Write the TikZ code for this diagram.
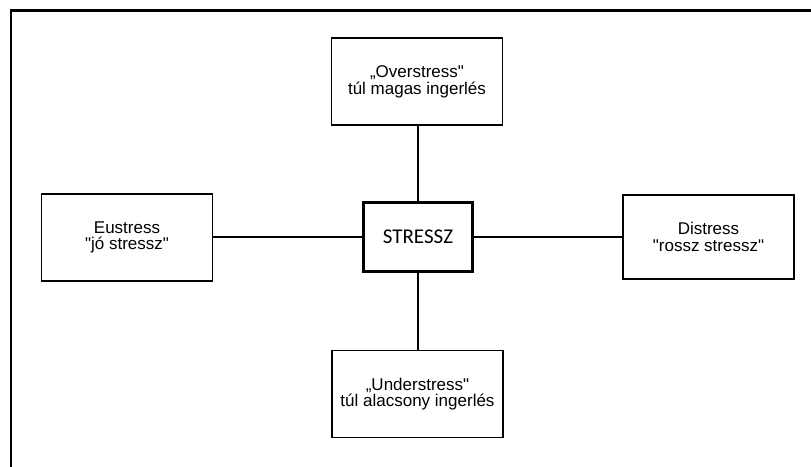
\documentclass[tikz,border=0pt]{standalone}
\usepackage{fontspec}
\newfontfamily\arialfont[Ligatures=TeXOff]{Liberation Sans}
\newfontfamily\calfont[Ligatures=TeXOff]{Carlito}
\usepackage{tikz}
\usetikzlibrary{positioning}
\tikzset{
  box/.style={draw,line width=1.3pt,align=center,inner sep=0pt,minimum width=171pt,minimum height=87pt,font=\arialfont\fontsize{17}{16.8}\selectfont},
  core/.style={draw,line width=3.6pt,align=center,inner sep=0pt,minimum width=109pt,minimum height=69pt,font=\calfont\fontsize{21}{21}\selectfont},
  conn/.style={line width=1.3pt},
  frame/.style={line width=2.4pt},
}
\begin{document}
\begin{tikzpicture}[x=1pt,y=-1pt]
\useasboundingbox (0,0) rectangle (811,466);
% outer frame (top and left only)
\coordinate (fb) at (11,470);
\coordinate (fc) at (11,10.5);
\coordinate (fr) at (815,10.5);
\draw[frame] (fb) -- (fc) -- (fr);
% nodes
\node[core] (stress) at (418,237) {STRESSZ};
\node[box] (over) at (417,81.5) {„Overstress"\\túl magas ingerlés};
\node[box] (under) at (417.5,394) {„Understress"\\túl alacsony ingerlés};
\node[box] (eu) at (127,237.5) {Eustress\\"jó stressz"};
\node[box,minimum height=84pt] (dis) at (708.5,237) {Distress\\"rossz stressz"};
% connectors
\draw[conn] (over.south -| stress.north) -- (stress.north);
\draw[conn] (stress.south) -- (under.north -| stress.south);
\draw[conn] (eu.east |- stress.west) -- (stress.west);
\draw[conn] (stress.east) -- (dis.west |- stress.east);
\end{tikzpicture}
\end{document}
